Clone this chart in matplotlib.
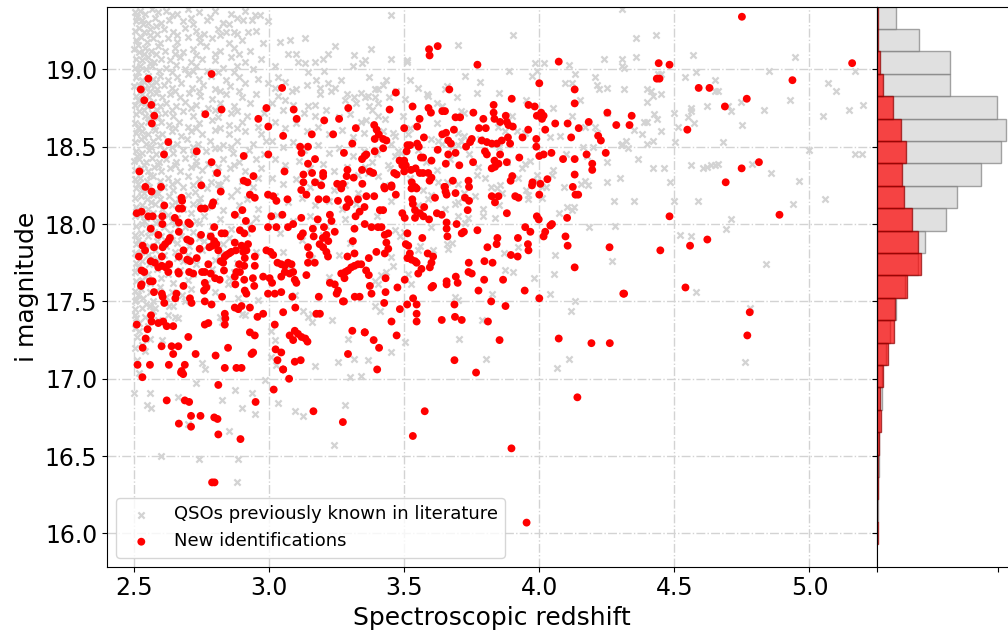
import numpy as np
import matplotlib
matplotlib.use("Agg")
import matplotlib.pyplot as plt

# new identifications (redshift, i mag)
new_qso = [
    (2.553, 18.94), (2.525, 18.87), (2.538, 18.80), (2.564, 18.77), (2.575, 18.70), (2.566, 18.65),
    (2.787, 18.97), (2.764, 18.71), (2.824, 18.74), (2.627, 18.53), (2.611, 18.45), (2.732, 18.47),
    (2.787, 18.40), (2.808, 18.33), (2.52, 18.34), (2.542, 18.24), (2.60, 18.24), (2.749, 18.25),
    (2.906, 18.44), (2.906, 18.28), (2.92, 18.27), (2.942, 18.31), (2.96, 18.68), (2.99, 18.75),
    (2.997, 18.63), (2.997, 18.45), (3.048, 18.88), (3.052, 18.57), (3.057, 18.34), (3.091, 18.74),
    (3.102, 18.68), (3.115, 18.50), (3.144, 18.50), (3.12, 18.46), (3.144, 18.39), (3.158, 18.58),
    (3.17, 18.42), (3.159, 18.33), (3.127, 18.32), (3.127, 18.27), (3.20, 18.33), (3.20, 18.31),
    (3.17, 18.27), (3.204, 18.67), (3.237, 18.58), (3.259, 18.68), (3.293, 18.75), (3.321, 18.62),
    (3.308, 18.52), (3.277, 18.46), (3.29, 18.35), (3.287, 18.31), (3.313, 18.30), (3.344, 18.35),
    (3.354, 18.44), (3.344, 18.42), (3.252, 18.26), (3.273, 18.26), (3.345, 18.26),
    # 3.35 - 4.3, bright end
    (3.592, 19.13), (3.594, 19.09), (3.624, 19.15), (3.771, 19.03), (3.469, 18.85), (3.667, 18.87),
    (3.446, 18.74), (3.531, 18.76), (3.59, 18.75), (3.599, 18.72), (3.641, 18.73), (3.651, 18.73),
    (3.69, 18.69), (3.707, 18.69), (3.756, 18.72), (3.557, 18.68), (3.548, 18.63), (3.50, 18.62),
    (3.389, 18.64), (3.398, 18.61), (3.406, 18.58), (3.422, 18.55), (3.434, 18.54), (3.391, 18.55),
    (3.391, 18.47), (3.422, 18.49), (3.36, 18.45), (3.684, 18.61), (3.641, 18.58), (3.655, 18.59),
    (3.573, 18.56), (3.512, 18.51), (3.522, 18.51), (3.548, 18.52), (3.554, 18.50), (3.663, 18.54),
    (3.673, 18.52), (3.624, 18.48), (3.562, 18.43), (3.570, 18.43), (3.509, 18.47), (3.483, 18.41),
    (3.50, 18.41), (3.506, 18.38), (3.601, 18.41), (3.654, 18.39), (3.663, 18.45), (3.69, 18.46),
    (3.704, 18.38), (3.755, 18.40), (3.729, 18.50), (3.744, 18.53), (3.75, 18.55), (3.777, 18.62),
    (3.802, 18.62), (3.793, 18.68), (3.831, 18.77), (3.831, 18.72), (3.834, 18.68), (3.855, 18.66),
    (3.876, 18.70), (3.88, 18.66), (3.898, 18.81), (3.886, 18.64), (3.902, 18.63), (3.787, 18.54),
    (3.806, 18.53), (3.824, 18.52), (3.843, 18.52), (3.861, 18.54), (3.884, 18.56), (3.892, 18.52),
    (3.799, 18.47), (3.806, 18.45), (3.855, 18.45), (3.834, 18.41), (3.849, 18.39), (3.836, 18.37),
    (3.88, 18.40), (3.824, 18.36), (3.926, 18.43), (3.938, 18.56), (3.959, 18.61), (3.96, 18.77),
    (3.983, 18.76), (4.00, 18.91), (3.991, 18.70), (4.007, 18.72), (4.016, 18.70), (4.01, 18.68),
    (4.022, 18.61), (3.989, 18.55), (3.989, 18.50), (4.00, 18.44), (4.016, 18.45), (4.045, 18.46),
    (4.059, 18.65), (4.072, 19.05), (4.105, 18.65), (4.118, 18.56), (4.131, 18.87), (4.131, 18.78),
    (4.146, 18.62), (4.183, 18.66), (4.088, 18.42), (4.131, 18.42), (4.175, 18.45), (4.218, 18.57),
    (4.228, 18.54), (4.246, 18.46), (4.252, 18.72), (4.285, 18.64), (4.196, 18.39), (4.196, 18.35),
    (4.131, 18.32), (4.03, 18.29), (3.975, 18.27), (4.004, 18.26), (3.894, 18.28), (3.90, 18.31),
    (4.124, 18.24), (3.738, 18.28), (3.68, 18.28), (3.651, 18.24), (3.601, 18.30), (3.589, 18.33),
    (3.594, 18.28), (3.54, 18.24), (3.528, 18.27), (3.558, 18.33), (3.57, 18.33), (3.525, 18.35),
    (3.542, 18.36), (3.50, 18.34), (3.493, 18.38), (3.463, 18.33), (3.472, 18.32), (3.373, 18.34),
    (3.385, 18.33), (3.453, 18.25), (3.426, 18.24),
    # high redshift, bright
    (4.75, 19.34), (4.442, 19.04), (4.482, 19.03), (4.435, 18.94), (4.445, 18.94), (4.59, 18.88),
    (4.63, 18.88), (4.768, 18.81), (4.687, 18.76), (4.937, 18.93), (5.158, 19.04), (4.342, 18.70),
    (4.334, 18.64), (4.548, 18.61), (4.749, 18.36), (4.813, 18.40), (4.69, 18.27),
    # 2.5 - 3.35, 17.4 - 18.25
    (2.565, 18.21), (2.676, 18.17), (2.678, 18.15), (2.821, 18.21), (2.793, 18.14), (2.789, 18.12),
    (2.929, 18.19), (2.947, 18.17), (2.996, 18.19), (3.015, 18.18), (3.027, 18.15), (3.068, 18.16),
    (3.119, 18.22), (3.138, 18.19), (3.183, 18.16), (3.212, 18.16), (3.255, 18.15), (3.292, 18.16),
    (3.267, 18.23), (3.329, 18.16), (3.193, 18.25), (2.51, 18.07), (2.528, 18.08), (2.553, 18.05),
    (2.569, 18.05), (2.605, 18.05), (2.612, 18.12), (2.666, 18.10), (2.678, 18.10), (2.748, 18.10),
    (2.762, 18.10), (2.651, 18.04), (2.666, 18.01), (2.666, 17.95), (2.605, 18.00), (2.562, 17.97),
    (2.59, 17.93), (2.701, 18.01), (2.707, 18.00), (2.748, 17.93), (2.797, 17.98), (2.873, 18.06),
    (2.901, 18.09), (2.892, 17.96), (2.908, 17.94), (2.937, 17.97), (2.914, 18.02), (2.824, 17.94),
    (2.836, 17.94), (2.784, 17.92), (2.797, 17.89), (2.697, 17.90), (2.709, 17.89), (2.633, 17.91),
    (2.627, 17.89), (2.615, 17.87), (2.606, 17.85), (2.532, 17.86), (2.541, 17.83), (2.574, 17.85),
    (2.518, 17.79), (2.562, 17.76), (2.577, 17.75), (2.603, 17.79), (2.59, 17.72), (2.603, 17.73),
    (2.617, 17.72), (2.63, 17.74), (2.666, 17.79), (2.683, 17.83), (2.697, 17.77), (2.707, 17.76),
    (2.732, 17.78), (2.743, 17.84), (2.779, 17.85), (2.79, 17.86), (2.805, 17.87), (2.812, 17.83),
    (2.836, 17.79), (2.842, 17.80), (2.852, 17.81), (2.86, 17.82), (2.873, 17.88), (2.877, 17.83),
    (2.898, 17.86), (2.904, 17.82), (2.916, 17.83), (2.922, 17.87), (2.821, 17.76), (2.83, 17.75),
    (2.889, 17.74), (2.908, 17.73), (2.879, 17.69), (2.892, 17.69), (2.947, 17.79), (2.947, 17.73),
    (2.91, 17.78), (2.775, 17.74), (2.784, 17.68), (2.752, 17.69), (2.762, 17.69), (2.704, 17.69),
    (2.719, 17.68), (2.664, 17.69), (2.666, 17.68), (2.627, 17.69), (2.528, 17.70), (2.538, 17.69),
    (2.569, 17.63), (2.559, 17.63), (2.528, 17.61), (2.526, 17.60), (2.574, 17.56), (2.603, 17.55),
    (2.606, 17.53), (2.612, 17.49), (2.657, 17.55), (2.653, 17.52), (2.683, 17.60), (2.707, 17.52),
    (2.713, 17.49), (2.762, 17.62), (2.768, 17.59), (2.759, 17.57), (2.80, 17.65), (2.817, 17.64),
    (2.833, 17.70), (2.826, 17.53), (2.873, 17.66), (2.875, 17.61), (2.908, 17.64), (2.91, 17.57),
    (2.916, 17.55), (2.94, 17.65), (2.945, 17.60), (2.762, 17.50), (2.787, 17.48), (2.978, 17.66),
    (3.002, 17.65), (3.011, 17.62), (2.99, 17.83), (3.005, 17.82), (3.015, 17.80), (2.996, 17.98),
    (3.027, 17.98), (3.008, 18.05), (3.049, 18.06), (3.07, 17.98), (3.089, 18.00), (3.119, 18.04),
    (3.117, 17.92), (3.125, 17.94), (3.144, 17.85), (3.15, 17.80), (3.162, 17.97), (3.18, 18.03),
    (3.165, 17.92), (3.199, 17.91), (3.203, 17.98), (3.212, 17.93), (3.219, 17.89), (3.225, 18.06),
    (3.231, 18.02), (3.243, 17.95), (3.187, 17.87), (3.20, 17.85), (3.212, 17.82), (3.218, 17.79),
    (3.144, 17.75), (3.169, 17.75), (3.031, 17.75), (3.045, 17.74), (3.058, 17.73), (3.07, 17.75),
    (3.083, 17.74), (3.058, 17.69), (3.076, 17.68), (3.089, 17.69), (3.095, 17.64), (3.101, 17.62),
    (3.138, 17.67), (3.045, 17.56), (3.021, 17.55), (2.996, 17.55), (3.086, 17.53), (3.045, 17.66),
    (3.184, 17.53), (3.225, 17.62), (3.243, 17.61), (3.255, 17.57), (3.25, 17.55), (3.273, 17.50),
    (3.29, 17.79), (3.267, 17.68), (3.282, 17.69), (3.292, 17.70), (3.304, 17.72), (3.316, 17.73),
    (3.329, 17.74), (3.341, 17.74), (3.279, 17.65), (3.317, 17.53), (3.335, 17.53), (3.316, 17.81),
    (3.31, 17.89), (3.316, 17.97), (3.32, 18.05), (3.335, 18.08), (3.353, 18.11), (3.286, 18.11),
    (3.298, 18.14), (3.359, 17.70),
    # 2.5 - 3.35, faint
    (2.51, 17.35), (2.55, 17.32), (2.563, 17.41), (2.565, 17.37), (2.59, 17.36), (2.608, 17.37),
    (2.621, 17.34), (2.645, 17.34), (2.543, 17.26), (2.532, 17.20), (2.513, 17.09), (2.559, 17.09),
    (2.602, 17.21), (2.629, 17.09), (2.639, 17.21), (2.645, 17.16), (2.664, 17.21), (2.688, 17.09),
    (2.676, 17.05), (2.701, 17.27), (2.728, 17.16), (2.762, 17.35), (2.775, 17.36), (2.802, 17.15),
    (2.836, 17.42), (2.838, 17.39), (2.836, 17.35), (2.848, 17.20), (2.836, 17.07), (2.879, 17.07),
    (2.898, 17.07), (2.873, 17.46), (2.886, 17.45), (2.898, 17.47), (2.929, 17.46), (2.957, 17.40),
    (2.978, 17.42), (2.929, 17.30), (2.947, 17.28), (2.935, 17.16), (2.941, 17.17), (3.021, 17.35),
    (3.052, 17.43), (3.024, 17.19), (3.031, 17.12), (3.052, 17.06), (3.045, 17.17), (3.076, 17.28),
    (3.095, 17.31), (3.107, 17.29), (3.089, 17.25), (3.12, 17.27), (3.134, 17.26), (3.142, 17.24),
    (3.097, 17.46), (3.175, 17.42), (3.188, 17.42), (3.095, 17.11), (3.117, 17.12), (3.292, 17.16),
    (3.308, 17.31), (3.354, 17.30), (3.277, 17.50),
    # 3.35 - 4.3, 17.0 - 18.25
    (3.428, 18.23), (3.453, 18.24), (3.527, 18.23), (3.546, 18.23), (3.469, 18.19), (3.389, 18.18),
    (3.36, 18.18), (3.53, 18.16), (3.532, 18.13), (3.54, 18.09), (3.558, 18.07), (3.574, 18.11),
    (3.493, 18.07), (3.502, 18.04), (3.54, 18.04), (3.571, 18.05), (3.592, 18.03), (3.614, 18.17),
    (3.621, 18.07), (3.639, 18.06), (3.653, 18.21), (3.657, 18.19), (3.69, 18.20), (3.649, 18.24),
    (3.657, 18.01), (3.657, 17.97), (3.66, 17.92), (3.694, 18.00), (3.713, 17.94), (3.721, 17.95),
    (3.725, 18.17), (3.74, 18.15), (3.735, 18.09), (3.74, 18.24), (3.771, 17.96), (3.824, 18.18),
    (3.849, 18.18), (3.836, 18.14), (3.88, 18.07), (3.911, 18.18), (3.923, 18.17), (3.973, 18.25),
    (4.0, 18.19), (3.991, 18.05), (3.998, 18.03), (3.948, 17.98), (3.967, 17.95), (3.921, 17.91),
    (3.845, 17.91), (3.842, 17.87), (3.808, 17.85), (3.958, 17.87), (3.96, 17.83), (3.895, 17.80),
    (3.92, 17.79), (4.022, 17.95), (4.016, 17.92), (4.047, 18.00), (4.041, 17.99), (4.103, 18.04),
    (4.097, 17.92), (4.105, 17.86), (4.134, 18.19), (4.144, 18.19), (4.26, 17.85), (4.131, 17.72),
    (3.797, 17.76), (3.827, 17.75), (3.739, 17.75), (3.738, 17.69), (3.75, 17.68), (3.691, 17.66),
    (3.698, 17.62), (3.657, 17.63), (3.657, 17.61), (3.601, 17.59), (3.607, 17.60), (3.796, 17.64),
    (3.866, 17.64), (3.775, 17.57), (3.822, 17.50), (3.875, 17.47), (3.946, 17.57), (4.00, 17.52),
    (4.311, 17.55), (3.587, 17.81), (3.607, 17.79), (3.601, 17.75), (3.595, 17.72), (3.567, 17.91),
    (3.512, 17.94), (3.506, 17.87), (3.515, 17.86), (3.521, 17.81), (3.512, 17.78), (3.527, 17.77),
    (3.54, 17.76), (3.546, 17.75), (3.552, 17.68), (3.564, 17.71), (3.502, 17.64), (3.475, 17.59),
    (3.431, 17.65), (3.431, 17.56), (3.426, 17.49), (3.369, 17.78), (3.369, 17.67), (3.373, 17.60),
    (3.379, 17.55), (3.397, 17.82), (3.428, 17.81), (3.441, 17.84), (3.434, 17.88), (3.428, 17.93),
    (3.441, 17.94), (3.354, 18.00), (3.379, 17.98), (3.403, 17.98), (3.416, 17.98), (3.41, 18.09),
    (3.422, 18.09), (3.533, 17.52), (3.546, 17.48), (3.546, 17.42), (3.546, 17.37), (3.511, 17.48),
    (3.484, 17.45), (3.453, 17.37), (3.472, 17.28), (3.639, 17.38), (3.686, 17.48), (3.688, 17.40),
    (3.713, 17.38), (3.81, 17.37), (3.853, 17.25), (3.686, 17.12), (3.766, 17.04), (4.072, 17.26),
    (4.193, 17.23), (4.261, 17.23), (3.354, 17.30), (3.387, 17.25), (3.407, 17.20), (3.40, 17.06),
    # high redshift, faint
    (4.482, 18.05), (4.889, 18.06), (4.448, 17.83), (4.558, 17.86), (4.622, 17.90), (4.314, 17.55),
    (4.541, 17.59), (4.779, 17.43), (4.77, 17.28),
    # faint tail
    (2.531, 17.01), (2.674, 17.04), (2.682, 17.03), (2.812, 16.96), (2.621, 16.86), (2.688, 16.86),
    (2.704, 16.85), (2.666, 16.71), (2.711, 16.76), (2.711, 16.69), (2.746, 16.76), (2.797, 16.75),
    (2.809, 16.74), (2.812, 16.64), (2.894, 16.61), (2.95, 16.85), (3.017, 16.93), (3.052, 17.06),
    (3.074, 17.00), (3.164, 16.79), (3.273, 16.72), (2.789, 16.33), (2.798, 16.33), (3.576, 16.79),
    (3.532, 16.63), (3.897, 16.55), (4.141, 16.88), (3.953, 16.07),
]

# QSOs previously known in literature (redshift, i mag), estimated from the grey cloud
known_qso = [
    # dense low-z cloud
    (2.503, 19.37), (2.521, 19.38), (2.54, 19.36), (2.566, 19.39), (2.59, 19.37), (2.62, 19.38), (2.66, 19.36),
    (2.70, 19.39), (2.74, 19.37), (2.80, 19.38), (2.86, 19.36),
    (2.508, 19.31), (2.53, 19.32), (2.552, 19.30), (2.578, 19.33), (2.60, 19.30), (2.63, 19.32), (2.68, 19.31),
    (2.72, 19.29), (2.77, 19.32), (2.83, 19.30), (2.88, 19.33),
    (2.502, 19.25), (2.517, 19.27), (2.538, 19.24), (2.561, 19.26), (2.585, 19.23), (2.612, 19.26), (2.645, 19.24),
    (2.69, 19.27), (2.73, 19.25), (2.76, 19.23), (2.81, 19.26), (2.95, 19.25),
    (2.506, 19.19), (2.526, 19.21), (2.547, 19.18), (2.57, 19.20), (2.595, 19.17), (2.625, 19.20), (2.66, 19.18),
    (2.70, 19.21), (2.745, 19.18), (2.79, 19.20), (2.85, 19.17), (2.90, 19.19),
    (2.501, 19.13), (2.52, 19.11), (2.542, 19.14), (2.563, 19.12), (2.588, 19.15), (2.615, 19.12), (2.65, 19.14),
    (2.68, 19.11), (2.72, 19.13), (2.765, 19.15), (2.82, 19.12), (2.87, 19.14), (2.93, 19.12),
    (2.509, 19.07), (2.53, 19.06), (2.553, 19.08), (2.575, 19.05), (2.60, 19.07), (2.635, 19.06), (2.67, 19.08),
    (2.71, 19.05), (2.75, 19.07), (2.80, 19.06), (2.86, 19.08), (2.91, 19.05), (2.97, 19.07),
    (2.503, 19.01), (2.523, 19.02), (2.545, 19.00), (2.568, 19.02), (2.592, 18.99), (2.62, 19.01), (2.655, 19.03),
    (2.69, 19.00), (2.73, 19.02), (2.77, 18.99), (2.83, 19.01), (2.88, 19.02), (2.94, 19.00),
    (2.506, 18.95), (2.528, 18.93), (2.55, 18.96), (2.572, 18.94), (2.598, 18.96), (2.627, 18.93), (2.66, 18.95),
    (2.70, 18.97), (2.74, 18.94), (2.785, 18.96), (2.84, 18.93), (2.89, 18.95), (2.96, 18.94),
    (2.501, 18.89), (2.518, 18.90), (2.54, 18.88), (2.563, 18.90), (2.586, 18.87), (2.61, 18.90), (2.64, 18.88),
    (2.675, 18.91), (2.715, 18.88), (2.755, 18.90), (2.80, 18.87), (2.855, 18.89), (2.91, 18.91),
    (2.508, 18.83), (2.53, 18.84), (2.556, 18.82), (2.58, 18.85), (2.605, 18.82), (2.635, 18.84), (2.67, 18.82),
    (2.705, 18.85), (2.745, 18.83), (2.79, 18.81), (2.84, 18.84), (2.90, 18.82), (2.95, 18.84),
    (2.503, 18.77), (2.525, 18.78), (2.548, 18.76), (2.57, 18.79), (2.595, 18.76), (2.62, 18.78), (2.655, 18.76),
    (2.69, 18.79), (2.73, 18.77), (2.775, 18.75), (2.82, 18.78), (2.87, 18.76), (2.93, 18.78),
    (2.506, 18.71), (2.52, 18.73), (2.542, 18.70), (2.566, 18.72), (2.59, 18.69), (2.615, 18.72), (2.645, 18.70),
    (2.68, 18.73), (2.72, 18.70), (2.76, 18.72), (2.81, 18.69), (2.86, 18.72), (2.92, 18.70), (2.98, 18.72),
    (2.502, 18.65), (2.527, 18.64), (2.55, 18.66), (2.574, 18.63), (2.60, 18.66), (2.63, 18.64), (2.665, 18.66),
    (2.70, 18.63), (2.74, 18.65), (2.79, 18.67), (2.85, 18.64), (2.90, 18.66), (2.96, 18.63),
    (2.509, 18.59), (2.531, 18.60), (2.553, 18.58), (2.578, 18.61), (2.605, 18.58), (2.64, 18.60), (2.675, 18.57),
    (2.71, 18.60), (2.75, 18.58), (2.80, 18.61), (2.85, 18.58), (2.91, 18.60), (2.97, 18.58),
    (2.503, 18.53), (2.524, 18.55), (2.546, 18.52), (2.57, 18.54), (2.596, 18.51), (2.625, 18.54), (2.66, 18.52),
    (2.695, 18.55), (2.735, 18.52), (2.78, 18.54), (2.83, 18.51), (2.88, 18.54), (2.94, 18.52), (2.99, 18.54),
    (2.507, 18.47), (2.53, 18.46), (2.555, 18.48), (2.58, 18.45), (2.61, 18.48), (2.645, 18.46), (2.68, 18.48),
    (2.72, 18.45), (2.765, 18.47), (2.815, 18.49), (2.865, 18.46), (2.925, 18.48), (2.98, 18.45),
    (2.501, 18.41), (2.52, 18.42), (2.543, 18.40), (2.566, 18.43), (2.592, 18.40), (2.62, 18.42), (2.655, 18.40),
    (2.69, 18.43), (2.73, 18.41), (2.775, 18.39), (2.83, 18.42), (2.89, 18.40), (2.95, 18.42),
    (2.505, 18.35), (2.527, 18.36), (2.55, 18.34), (2.575, 18.37), (2.60, 18.34), (2.635, 18.36), (2.67, 18.34),
    (2.71, 18.37), (2.75, 18.35), (2.80, 18.33), (2.855, 18.36), (2.91, 18.34), (2.97, 18.36),
    (2.502, 18.29), (2.523, 18.30), (2.547, 18.28), (2.57, 18.31), (2.595, 18.28), (2.625, 18.30), (2.66, 18.28),
    (2.70, 18.31), (2.74, 18.29), (2.785, 18.27), (2.84, 18.30), (2.90, 18.28), (2.96, 18.30),
    (2.507, 18.23), (2.53, 18.22), (2.556, 18.24), (2.58, 18.21), (2.61, 18.24), (2.645, 18.22), (2.68, 18.24),
    (2.725, 18.21), (2.77, 18.23), (2.82, 18.25), (2.88, 18.22), (2.94, 18.24),
    (2.503, 18.17), (2.525, 18.18), (2.548, 18.16), (2.57, 18.19), (2.598, 18.16), (2.63, 18.18), (2.665, 18.16),
    (2.70, 18.19), (2.745, 18.17), (2.80, 18.15), (2.86, 18.18), (2.92, 18.16),
    (2.506, 18.11), (2.528, 18.12), (2.552, 18.10), (2.578, 18.13), (2.605, 18.10), (2.64, 18.12), (2.68, 18.10),
    (2.72, 18.13), (2.77, 18.11), (2.83, 18.09), (2.89, 18.12), (2.96, 18.10),
    (2.502, 18.05), (2.522, 18.06), (2.545, 18.04), (2.57, 18.07), (2.595, 18.04), (2.625, 18.06), (2.66, 18.04),
    (2.71, 18.07), (2.76, 18.05), (2.82, 18.03), (2.88, 18.06), (2.95, 18.04),
    (2.507, 17.99), (2.53, 18.00), (2.555, 17.98), (2.58, 18.01), (2.61, 17.98), (2.65, 18.00), (2.69, 17.98),
    (2.74, 18.01), (2.79, 17.99), (2.86, 17.97), (2.93, 18.00),
    (2.503, 17.93), (2.525, 17.94), (2.55, 17.92), (2.575, 17.95), (2.60, 17.92), (2.635, 17.94), (2.675, 17.92),
    (2.72, 17.95), (2.78, 17.93), (2.85, 17.91), (2.92, 17.94),
    (2.506, 17.87), (2.53, 17.88), (2.556, 17.86), (2.585, 17.89), (2.62, 17.86), (2.66, 17.88), (2.705, 17.86),
    (2.76, 17.89), (2.83, 17.87), (2.90, 17.85),
    (2.502, 17.81), (2.524, 17.82), (2.55, 17.80), (2.578, 17.83), (2.61, 17.80), (2.65, 17.82), (2.70, 17.80),
    (2.75, 17.83), (2.82, 17.81), (2.95, 17.82),
    (2.507, 17.75), (2.53, 17.76), (2.556, 17.74), (2.59, 17.77), (2.63, 17.74), (2.68, 17.76), (2.73, 17.74),
    (2.80, 17.77), (2.88, 17.75),
    (2.503, 17.69), (2.526, 17.70), (2.553, 17.68), (2.585, 17.71), (2.625, 17.68), (2.67, 17.70), (2.72, 17.68),
    (2.79, 17.71), (2.87, 17.69),
    (2.506, 17.63), (2.53, 17.64), (2.56, 17.62), (2.60, 17.65), (2.645, 17.62), (2.70, 17.64), (2.77, 17.62),
    (2.85, 17.65),
    (2.502, 17.57), (2.527, 17.58), (2.558, 17.56), (2.595, 17.59), (2.64, 17.56), (2.71, 17.58), (2.80, 17.56),
    (2.507, 17.51), (2.535, 17.52), (2.57, 17.50), (2.62, 17.53), (2.69, 17.50),
    (2.503, 17.45), (2.53, 17.46), (2.57, 17.44), (2.63, 17.47), (2.508, 17.39), (2.54, 17.40), (2.59, 17.38),
    (2.504, 17.33), (2.55, 17.34), (2.51, 17.27), (2.56, 17.26), (2.505, 17.20), (2.54, 17.18), (2.51, 17.12),
    (2.52, 17.04),
    (2.512, 19.34), (2.535, 19.29), (2.558, 19.22), (2.583, 19.28), (2.514, 19.16), (2.537, 19.10), (2.56, 19.04),
    (2.58, 19.10), (2.515, 18.98), (2.538, 18.92), (2.56, 18.86), (2.583, 18.92), (2.513, 18.80), (2.536, 18.74),
    (2.56, 18.68), (2.585, 18.74), (2.514, 18.62), (2.537, 18.56), (2.562, 18.50), (2.587, 18.56), (2.512, 18.44),
    (2.536, 18.38), (2.56, 18.32), (2.588, 18.38), (2.515, 18.26), (2.538, 18.20), (2.562, 18.14), (2.59, 18.20),
    (2.513, 18.08), (2.536, 18.02), (2.56, 17.96), (2.59, 18.02), (2.515, 17.90), (2.54, 17.84), (2.565, 17.78),
    (2.515, 17.72), (2.54, 17.66), (2.515, 17.54), (2.545, 17.48), (2.52, 17.36), (2.53, 17.22),
    (2.64, 19.35), (2.71, 19.33), (2.78, 19.34), (2.85, 19.29), (2.66, 19.22), (2.74, 19.21), (2.82, 19.22),
    (2.88, 19.23), (2.65, 19.10), (2.73, 19.09), (2.80, 19.10), (2.89, 19.10), (2.64, 18.98), (2.72, 18.99),
    (2.81, 18.98), (2.87, 18.98), (2.65, 18.86), (2.74, 18.86), (2.82, 18.86), (2.89, 18.86), (2.64, 18.74),
    (2.71, 18.75), (2.80, 18.74), (2.88, 18.73), (2.65, 18.62), (2.73, 18.62), (2.82, 18.62), (2.88, 18.62),
    (2.64, 18.50), (2.72, 18.50), (2.80, 18.49), (2.86, 18.50), (2.65, 18.38), (2.73, 18.38), (2.81, 18.37),
    (2.87, 18.38), (2.64, 18.26), (2.72, 18.25), (2.81, 18.26), (2.65, 18.14), (2.74, 18.14), (2.64, 18.02),
    (2.73, 18.02), (2.64, 17.90), (2.74, 17.91), (2.66, 17.78),
    # 2.9 - 3.35
    (2.91, 19.38), (2.947, 19.35), (2.965, 19.35), (2.904, 19.32), (2.935, 19.32), (2.996, 19.31), (2.871, 19.24),
    (2.84, 19.24), (2.83, 19.30), (2.922, 19.24), (2.978, 19.17), (3.039, 19.18), (3.076, 19.19), (3.132, 19.20),
    (3.07, 19.10), (3.101, 19.10), (3.107, 19.05), (3.132, 19.04), (3.169, 19.05), (3.20, 19.07), (3.218, 19.10),
    (3.243, 19.15), (3.316, 19.09), (3.344, 19.04), (3.31, 19.02), (3.144, 18.98), (3.175, 18.93), (3.205, 18.99),
    (3.187, 18.88), (3.218, 18.91), (3.243, 18.88), (3.267, 18.93), (3.288, 18.84), (3.316, 18.82), (3.341, 18.85),
    (3.169, 18.77), (3.144, 18.76), (3.083, 18.86), (3.033, 18.83), (3.058, 18.80), (3.021, 19.02), (3.033, 18.95),
    (2.996, 18.91),
    (3.02, 18.88), (3.06, 18.92), (3.10, 18.87), (3.14, 18.90), (3.19, 18.84), (3.23, 18.86), (3.28, 18.80),
    (3.32, 18.78), (3.01, 18.78), (3.05, 18.74), (3.09, 18.77), (3.13, 18.72), (3.17, 18.70), (3.21, 18.74),
    (3.26, 18.69), (3.30, 18.71), (3.34, 18.66), (3.02, 18.66), (3.06, 18.62), (3.10, 18.65), (3.14, 18.60),
    (3.18, 18.63), (3.22, 18.58), (3.27, 18.61), (3.31, 18.56), (3.35, 18.59), (3.01, 18.54), (3.05, 18.50),
    (3.09, 18.53), (3.13, 18.48), (3.18, 18.51), (3.22, 18.46), (3.26, 18.49), (3.31, 18.44), (3.35, 18.47),
    (3.02, 18.42), (3.06, 18.38), (3.11, 18.41), (3.15, 18.36), (3.20, 18.39), (3.24, 18.34), (3.29, 18.37),
    (3.33, 18.32), (3.01, 18.30), (3.05, 18.26), (3.10, 18.29), (3.15, 18.24), (3.19, 18.27), (3.24, 18.22),
    (3.28, 18.25), (3.33, 18.20), (3.02, 18.18), (3.07, 18.14), (3.12, 18.17), (3.17, 18.12), (3.22, 18.15),
    (3.27, 18.10), (3.32, 18.13), (3.03, 18.06), (3.09, 18.02), (3.15, 18.05), (3.21, 17.99), (3.28, 18.03),
    (3.04, 17.94), (3.12, 17.90), (3.20, 17.93), (3.30, 17.88), (3.05, 17.82), (3.16, 17.78), (3.26, 17.80),
    (3.08, 17.70), (3.22, 17.66),
    # 3.35 - 4.35
    (3.45, 19.35), (3.376, 19.13), (3.354, 19.06), (3.45, 19.07), (3.509, 19.05), (3.512, 19.06), (3.70, 19.16),
    (3.902, 19.22), (3.889, 18.99), (3.725, 18.96), (3.781, 18.92), (3.769, 18.85), (3.434, 18.93), (3.521, 18.93),
    (3.391, 18.87), (3.403, 18.87), (3.366, 18.83), (3.354, 18.82), (3.444, 18.82), (3.502, 18.81), (3.583, 18.84),
    (3.589, 18.83), (3.657, 18.89), (3.651, 18.87), (3.694, 18.82), (3.371, 18.76), (3.379, 18.74), (3.428, 18.68),
    (3.36, 18.67), (3.403, 18.70), (3.46, 18.59), (3.465, 18.57), (3.515, 18.58), (3.496, 18.70), (3.62, 18.78),
    (3.639, 18.76), (3.71, 18.73), (3.72, 18.72), (3.70, 18.59), (3.72, 18.57), (3.71, 18.54), (3.849, 18.63),
    (3.874, 18.60), (3.917, 18.60), (3.948, 18.59), (3.985, 19.04), (4.016, 19.04), (3.991, 18.99), (3.973, 18.96),
    (4.094, 18.91), (4.121, 18.91), (4.134, 18.97), (4.208, 18.95), (4.214, 18.90), (4.22, 18.87), (4.251, 18.88),
    (4.239, 19.07), (4.111, 19.03), (4.307, 19.39), (4.307, 19.02), (4.121, 18.70), (4.171, 18.63), (4.208, 18.63),
    (4.214, 18.59), (4.078, 18.57), (4.041, 18.56), (4.301, 18.51), (4.307, 18.52), (4.161, 18.50), (4.177, 18.44),
    (3.948, 18.39), (3.967, 18.41), (3.991, 18.32), (3.991, 18.28), (4.047, 18.32), (4.171, 18.28), (4.156, 18.26),
    (4.252, 18.27), (3.855, 18.25), (3.822, 18.24), (4.01, 18.24), (4.025, 18.24), (4.09, 18.24), (3.601, 18.55),
    (3.624, 18.54), (3.639, 18.52), (3.676, 18.50), (3.70, 18.51), (3.478, 18.47), (3.49, 18.46), (3.465, 18.44),
    (3.441, 18.38), (3.447, 18.36), (3.626, 18.27), (3.657, 18.27), (3.70, 18.26), (3.769, 18.32), (3.775, 18.37),
    (3.923, 18.30), (3.936, 18.36), (3.391, 18.82), (3.403, 18.78), (3.354, 18.37), (3.366, 18.33), (3.403, 18.31),
    (3.37, 18.95), (3.42, 18.90), (3.47, 18.86), (3.55, 18.88), (3.40, 18.45), (3.45, 18.52), (3.55, 18.48),
    (3.58, 18.40), (3.38, 18.40), (3.43, 18.25), (3.52, 18.30), (3.57, 18.22), (3.62, 18.35), (3.67, 18.42),
    (3.74, 18.45), (3.78, 18.55), (3.85, 18.50), (3.88, 18.40), (3.80, 18.30), (3.72, 18.20), (3.65, 18.10),
    (3.55, 18.12), (3.45, 18.15), (3.40, 18.05), (3.50, 17.95), (3.60, 17.98), (3.70, 18.05), (3.85, 18.12),
    (3.95, 18.22), (4.05, 18.35), (4.10, 18.45), (4.20, 18.50), (4.25, 18.40), (4.18, 18.25), (4.30, 18.30),
    (4.35, 18.15), (3.90, 18.70), (3.95, 18.80), (4.05, 18.75), (4.15, 18.80), (4.25, 18.72), (3.85, 18.85),
    (3.62, 18.65), (3.52, 18.62), (3.42, 18.60),
    (3.762, 18.18), (3.793, 18.10), (3.836, 18.04), (4.072, 18.07), (4.103, 18.11), (4.121, 18.09), (4.128, 18.11),
    (4.183, 17.98), (4.276, 18.15), (4.282, 17.99), (4.27, 17.76), (4.057, 17.80), (4.053, 17.68), (3.981, 17.65),
    (4.041, 17.55), (4.131, 17.50), (4.118, 17.44), (4.111, 17.13), (4.066, 17.07), (3.901, 17.69), (3.874, 17.70),
    (3.868, 17.81), (3.824, 17.55), (3.704, 17.26), (3.803, 17.13), (3.787, 17.38), (3.688, 17.53), (3.70, 17.51),
    (3.657, 17.87), (3.663, 17.84), (3.676, 17.88), (3.725, 18.01), (3.738, 18.04), (3.607, 17.83), (3.552, 17.83),
    (3.558, 17.86), (3.465, 17.96), (3.484, 17.92), (3.453, 17.79), (3.459, 17.73), (3.434, 17.69), (3.416, 17.67),
    (3.391, 17.63), (3.403, 17.61), (3.391, 17.47), (3.41, 17.44), (3.527, 17.61), (3.515, 17.68), (3.366, 17.12),
    (3.453, 17.17), (3.502, 17.24), (3.843, 18.23), (3.861, 18.20), (3.96, 18.19), (3.96, 18.16), (4.01, 18.17),
    (3.589, 18.16), (3.601, 18.19), (3.688, 18.13), (3.70, 18.14), (3.793, 18.05), (3.923, 17.85),
    # high redshift
    (4.359, 19.20), (4.431, 19.22), (4.359, 19.08), (4.306, 19.07), (4.315, 19.01), (4.312, 18.87), (4.40, 18.87),
    (4.412, 18.86), (4.42, 18.83), (4.40, 18.79), (4.45, 18.84), (4.44, 18.97), (4.45, 18.97), (4.50, 18.72),
    (4.56, 18.75), (4.56, 18.73), (4.552, 18.69), (4.572, 18.65), (4.515, 18.63), (4.501, 18.53), (4.425, 18.71),
    (4.435, 18.68), (4.386, 18.66), (4.398, 18.66), (4.352, 18.61), (4.38, 18.58), (4.45, 18.60), (4.322, 18.54),
    (4.33, 18.49), (4.306, 18.51), (4.40, 18.52), (4.42, 18.54), (4.365, 18.42), (4.42, 18.36), (4.46, 18.36),
    (4.482, 18.27), (4.56, 18.38), (4.607, 18.36), (4.622, 18.37), (4.634, 18.38), (4.65, 18.38), (4.662, 18.39),
    (4.789, 18.39), (4.859, 18.33), (4.963, 18.28), (4.57, 19.09), (4.58, 18.98), (4.539, 18.95), (4.65, 18.93),
    (4.65, 18.86), (4.662, 18.86), (4.619, 18.76), (4.699, 18.76), (4.709, 18.73), (4.748, 18.79), (4.75, 18.64),
    (4.83, 18.74), (4.68, 18.53), (4.85, 18.99), (4.948, 19.08), (4.929, 18.80), (5.069, 18.91), (5.098, 18.86),
    (5.049, 18.70), (5.147, 18.74), (5.199, 18.77), (5.167, 18.99), (5.00, 18.48), (5.167, 18.45), (5.194, 18.45),
    (4.50, 18.15), (4.586, 18.15), (4.939, 18.13), (5.059, 18.16), (4.71, 18.03), (4.69, 17.97), (4.521, 17.93),
    (4.56, 17.92), (4.838, 17.74), (4.581, 17.56), (4.779, 17.46), (4.76, 17.11),
    # faint scattered
    (2.501, 16.91), (2.559, 16.91), (2.547, 16.83), (2.563, 16.81), (2.664, 16.88), (2.728, 16.97), (2.826, 16.86),
    (2.873, 16.93), (2.935, 16.91), (2.984, 16.99), (2.90, 16.81), (2.947, 16.77), (3.033, 16.84), (2.851, 16.66),
    (3.095, 16.79), (3.125, 16.76), (3.28, 16.83), (3.298, 17.01), (3.341, 17.02), (3.24, 16.57), (2.599, 16.50),
    (2.741, 16.48), (2.885, 16.48), (2.882, 16.33), (2.70, 16.71),
    (2.504, 17.50), (2.504, 17.41), (2.559, 17.47), (2.578, 17.46), (2.651, 17.40), (2.664, 17.39), (2.602, 17.25),
    (2.518, 17.31), (2.75, 17.10), (2.762, 17.06), (2.818, 17.40), (2.824, 17.37), (2.898, 17.42), (2.91, 17.41),
    (3.008, 17.31), (3.021, 17.25), (3.008, 17.14), (3.027, 17.09), (3.126, 17.44), (3.159, 17.37), (3.169, 17.08),
    (3.233, 17.38), (3.292, 17.26), (3.316, 17.13), (3.255, 17.11), (3.144, 17.40), (3.157, 17.42), (3.095, 17.54),
    (2.96, 17.51), (2.885, 17.52), (2.848, 17.61), (2.676, 17.54), (2.645, 17.47), (2.627, 17.41),
]

# histogram of i magnitude (counts per bin, faint to bright)
hist_edges = np.linspace(15.93, 19.405, 25)
hist_known = [0, 1, 2, 3, 3, 4, 9, 8, 15, 21, 31, 46, 68, 80, 114, 132, 172, 205, 214, 198, 121, 120, 69, 32]
hist_new = [1, 0, 2, 1, 3, 6, 5, 10, 19, 28, 29, 50, 72, 68, 58, 45, 41, 48, 40, 27, 10, 5, 1, 1]

kx, ky = zip(*known_qso)
nx, ny = zip(*new_qso)

fig = plt.figure(figsize=(10.08, 6.35), dpi=100)
ax = fig.add_axes([107 / 1008, 1 - 566.7 / 635, 770 / 1008, 560 / 635])
axh = fig.add_axes([877 / 1008, 1 - 566.7 / 635, 131 / 1008, 560 / 635], sharey=ax)

ax.scatter(kx, ky, marker="x", s=20, linewidths=1.6, color="lightgrey",
           label="QSOs previously known in literature", zorder=2)
ax.scatter(nx, ny, marker="o", s=32, color="red", edgecolors="none",
           label="New identifications", zorder=3)
ax.set_xlim(2.4, 5.25)
ax.set_ylim(15.785, 19.405)
ax.set_xticks([2.5, 3.0, 3.5, 4.0, 4.5, 5.0])
ax.set_yticks([16.0, 16.5, 17.0, 17.5, 18.0, 18.5, 19.0])
ax.grid(True, linestyle="-.", color="lightgrey", linewidth=1.0)
ax.set_axisbelow(True)
ax.tick_params(labelsize=17)
ax.set_xlabel("Spectroscopic redshift", fontsize=18)
ax.set_ylabel("i magnitude", fontsize=18)
ax.legend(loc="lower left", fontsize=13, borderaxespad=0.5)

width = np.diff(hist_edges)
axh.barh(hist_edges[:-1], hist_known, height=width, align="edge",
         color="lightgrey", edgecolor="grey", alpha=0.7, linewidth=1.0)
axh.barh(hist_edges[:-1], hist_new, height=width, align="edge",
         color="red", edgecolor="darkred", alpha=0.7, linewidth=1.0)
axh.set_xlim(0, 200 * 131 / 121)
axh.set_xticks([0, 200])
axh.set_xticklabels([])
axh.tick_params(labelleft=False)
axh.spines["right"].set_visible(False)

fig.savefig("out.png", dpi=100)
